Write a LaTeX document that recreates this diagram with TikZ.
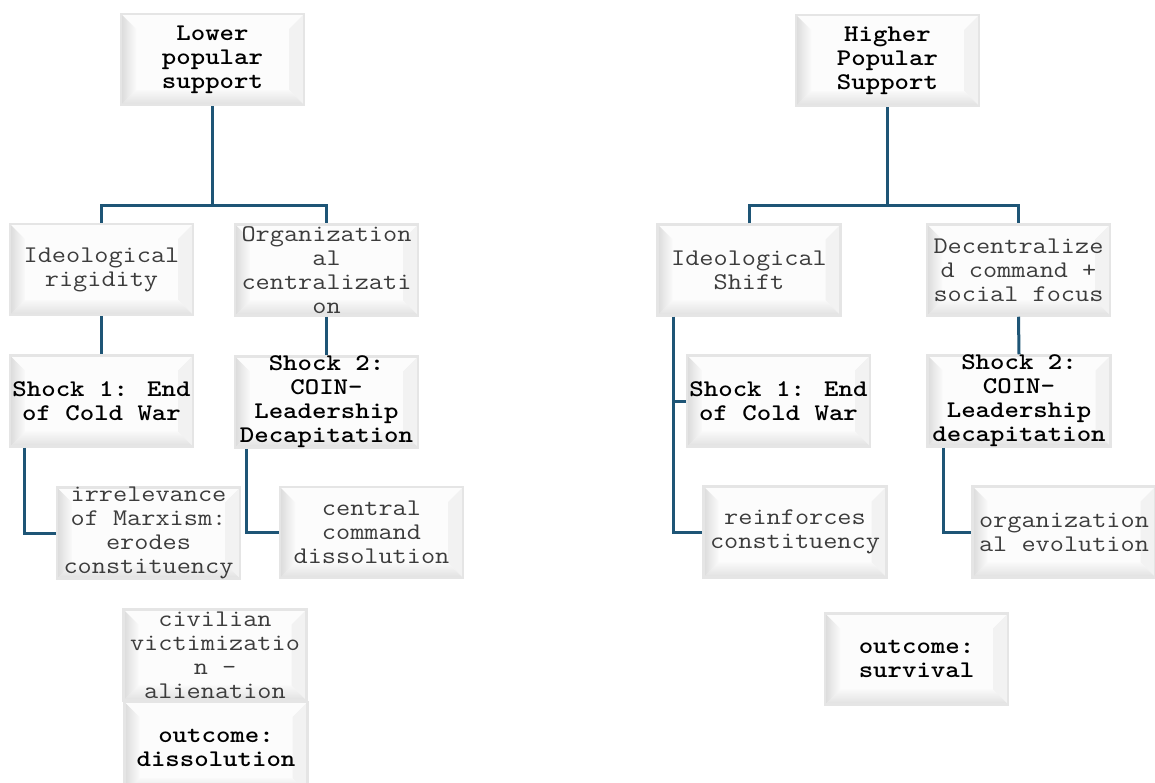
\documentclass[tikz,border=0pt]{standalone}
\usepackage{fontspec}
\usepackage{tikz}
\usetikzlibrary{calc}
\definecolor{linkblue}{RGB}{30,85,118}
\definecolor{txtgray}{RGB}{60,60,60}
\tikzset{
  bevelbox/.style={minimum width=183bp, minimum height=91bp, inner sep=0pt,
    draw=gray!20, line width=2.5bp,
    path picture={
      \def\ppb{path picture bounding box}
      \fill[gray!2] (\ppb.north west) rectangle (\ppb.south east);
      \fill[gray!10] (\ppb.north east) -- ([shift={(-15,15)}]\ppb.north east) -- ([shift={(-15,-15)}]\ppb.south east) -- (\ppb.south east) -- cycle;
      \shade[top color=gray!5, bottom color=gray!24] (\ppb.south west) -- ([shift={(15,-15)}]\ppb.south west) -- ([shift={(-15,-15)}]\ppb.south east) -- (\ppb.south east) -- cycle;
      \shade[left color=gray!28, right color=gray!4] (\ppb.north west) -- ([shift={(15,15)}]\ppb.north west) -- ([shift={(15,-15)}]\ppb.south west) -- (\ppb.south west) -- cycle;
    }},
  plaintext/.style={align=center, inner sep=0pt, xscale=1.15, transform shape,
    font=\ttfamily\fontsize{24}{24}\selectfont, text=txtgray},
  boldtext/.style={plaintext, font=\ttfamily\bfseries\fontsize{24}{24}\selectfont, text=black},
  conn/.style={draw=linkblue, line width=3bp},
}
\begin{document}
\begin{tikzpicture}[x=1bp,y=-1bp]
\clip (0,0) rectangle (1155,783);
\fill[white] (0,0) rectangle (1155,783);

% left tree
\node[bevelbox] (lps) at (212.5,59.5) {};
\node[boldtext] (lps-t) at (lps) {Lower\\popular\\support};
\node[bevelbox] (ir) at (101.5,269.5) {};
\node[plaintext] (ir-t) at (ir) {Ideological\\rigidity};
\node[bevelbox] (oc) at (326.5,270) {};
\node[plaintext] (oc-t) at (oc) {Organization\\al\\centralizati\\on};
\node[bevelbox] (s1l) at (101.5,401) {};
\node[boldtext] (s1l-t) at (s1l) {Shock 1: End\\of Cold War};
\node[bevelbox] (s2l) at (326.5,402) {};
\node[boldtext] (s2l-t) at (s2l) {Shock 2:\\COIN-\\Leadership\\Decapitation};
\node[bevelbox] (irr) at (148.5,533) {};
\node[plaintext] (irr-t) at (irr) {irrelevance\\of Marxism:\\erodes\\constituency};
\node[bevelbox] (ccd) at (371.5,532.5) {};
\node[plaintext] (ccd-t) at (ccd) {central\\command\\dissolution};
\node[bevelbox] (civ) at (215,655) {};
\node[plaintext] (civ-t) at (civ) {civilian\\victimizatio\\n -\\alienation};
\node[bevelbox] (dis) at (216,747.5) {};
\node[boldtext] (dis-t) at (dis) {outcome:\\dissolution};

\coordinate (lbus) at (212.5,205); % Verzweigung links
\draw[conn] (lps.south) -- (lbus);
\draw[conn] (ir.north) |- (lbus) -| (oc.north);
\draw[conn] (ir.south) -- (s1l.north);
\draw[conn] (oc.south) -- (s2l.north);
\draw[conn] ($(s1l.south west)+(16,0)$) |- (irr.west);
\draw[conn] ($(s2l.south west)+(13,0)$) |- (ccd.west);

% right tree
\node[bevelbox] (hps) at (887.5,60.5) {};
\node[boldtext] (hps-t) at (hps) {Higher\\Popular\\Support};
\node[bevelbox] (is) at (749,270) {};
\node[plaintext] (is-t) at (is) {Ideological\\Shift};
\node[bevelbox] (dc) at (1018.5,270) {};
\node[plaintext] (dc-t) at (dc) {Decentralize\\d command +\\social focus};
\node[bevelbox] (s1r) at (778.5,401) {};
\node[boldtext] (s1r-t) at (s1r) {Shock 1: End\\of Cold War};
\node[bevelbox] (s2r) at (1019,401) {};
\node[boldtext] (s2r-t) at (s2r) {Shock 2:\\COIN-\\Leadership\\decapitation};
\node[bevelbox] (rc) at (795,532) {};
\node[plaintext] (rc-t) at (rc) {reinforces\\constituency};
\node[bevelbox] (oe) at (1064,532) {};
\node[plaintext] (oe-t) at (oe) {organization\\al evolution};
\node[bevelbox] (sv) at (916.5,659) {};
\node[boldtext] (sv-t) at (sv) {outcome:\\survival};

\coordinate (rbus) at (887.5,205); % Verzweigung rechts
\draw[conn] (hps.south) -- (rbus);
\draw[conn] (is.north) |- (rbus) -| (dc.north);
\draw[conn] (dc.south) -- (s2r.north);
\draw[conn] ($(is.south west)+(17,0)$) |- (s1r.west);
\draw[conn] ($(is.south west)+(17,0)$) |- (rc.west);
\draw[conn] ($(s2r.south west)+(17,0)$) |- (oe.west);
\end{tikzpicture}
\end{document}
